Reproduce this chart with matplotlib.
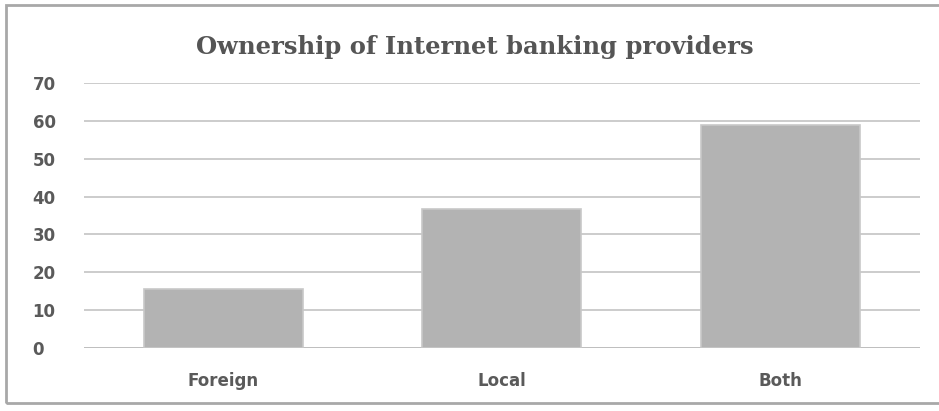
import matplotlib.pyplot as plt
from matplotlib.patches import Rectangle

categories = ['Foreign', 'Local', 'Both']
values = [15.6, 36.7, 58.9]
yticks = [0, 10, 20, 30, 40, 50, 60, 70]

fig = plt.figure(figsize=(9.39, 4.11), dpi=100)
ax = fig.add_axes([0.0895, 0.1533, 0.8898, 0.6448])

# outer chart frame (open on the right)
fig.patches.append(Rectangle((0.006, 0.02), 1.1, 0.968, transform=fig.transFigure,
                             fill=False, edgecolor='#a8a8a8', linewidth=2.0))

ax.bar(range(len(categories)), values, width=0.57, color='#b3b3b3',
       edgecolor='#c8c8c8', linewidth=1.2, zorder=3)

ax.set_xlim(-0.5, 2.5)
ax.set_ylim(0, 70)
ax.set_yticks(yticks)
ax.set_xticks(range(len(categories)))
ax.set_xticklabels(categories)
ax.yaxis.grid(True, color='#c4c4c4', linewidth=1.2, zorder=0)
ax.set_axisbelow(True)
for side in ['top', 'right', 'left', 'bottom']:
    ax.spines[side].set_visible(False)
ax.axhline(0, color='#bdbdbd', linewidth=1.2, zorder=2)
ax.tick_params(length=0, labelcolor='#5a5a5a', labelsize=12)
ax.tick_params(axis='y', pad=37)
ax.tick_params(axis='x', pad=17)
for lbl in ax.get_xticklabels() + ax.get_yticklabels():
    lbl.set_fontfamily('DejaVu Sans')
    lbl.set_fontweight('bold')
for lbl in ax.get_yticklabels():
    lbl.set_horizontalalignment('left')

fig.text(0.506, 0.885, 'Ownership of Internet banking providers', ha='center', va='center',
         fontsize=17.5, fontweight='bold', family='DejaVu Serif', color='#555555')

fig.savefig('out.png', dpi=100, facecolor='white')
